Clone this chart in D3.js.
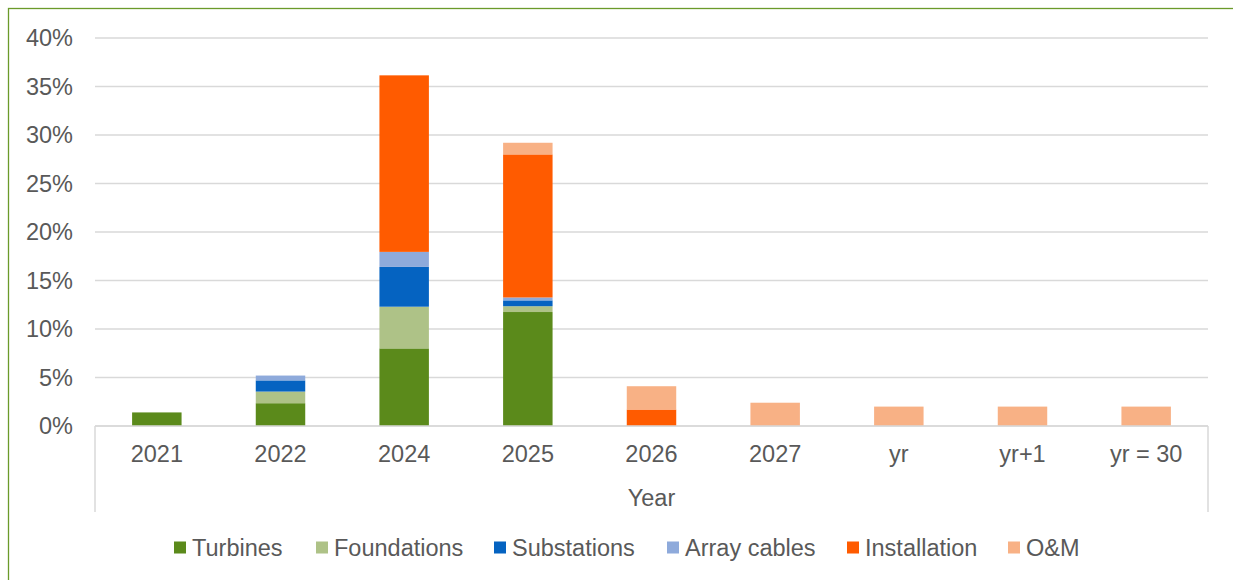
<!DOCTYPE html>
<html>
<head>
<meta charset="utf-8">
<script src="https://cdn.jsdelivr.net/npm/d3@7"></script>
<style>
  body { margin: 0; background: #fff; }
  svg text { font-family: "Liberation Sans", Arial, sans-serif; fill: #595959; }
</style>
</head>
<body>
<svg id="chart" width="1233" height="580"></svg>
<script>
const years = ["2021", "2022", "2024", "2025", "2026", "2027", "yr", "yr+1", "yr = 30"];
const seriesNames = ["Turbines", "Foundations", "Substations", "Array cables", "Installation", "O&M"];
const turbines    = [1.4, 2.35, 8.0, 11.75, 0, 0, 0, 0, 0];
const foundations = [0, 1.2, 4.3, 0.6, 0, 0, 0, 0, 0];
const substations = [0, 1.15, 4.1, 0.6, 0, 0, 0, 0, 0];
const arrayCables = [0, 0.5, 1.55, 0.3, 0, 0, 0, 0, 0];
const installation = [0, 0, 18.2, 14.75, 1.7, 0, 0, 0, 0];
const om          = [0, 0, 0, 1.2, 2.4, 2.4, 2.0, 2.0, 2.0];
const yTicks = [0, 5, 10, 15, 20, 25, 30, 35, 40];
const colors = ["#5B8A1B", "#AEC287", "#0563C1", "#8EAADB", "#FF5B00", "#F8B185"];

const rows = years.map((y, i) => ({
  year: y,
  "Turbines": turbines[i],
  "Foundations": foundations[i],
  "Substations": substations[i],
  "Array cables": arrayCables[i],
  "Installation": installation[i],
  "O&M": om[i]
}));

const svg = d3.select("#chart");
const plotLeft = 95, plotRight = 1208, plotTop = 38, plotBottom = 426;
const fontSize = 23.5;

// outer frame
svg.append("rect")
  .attr("x", 8.5).attr("y", 8.5)
  .attr("width", 1240).attr("height", 600)
  .attr("fill", "none").attr("stroke", "#6B9A2A").attr("stroke-width", 1.3);

const x = d3.scaleBand().domain(years).range([plotLeft, plotRight]).paddingInner(0.6).paddingOuter(0.3);
const y = d3.scaleLinear().domain([0, 40]).range([plotBottom, plotTop]);

// gridlines
svg.append("g")
  .selectAll("line")
  .data(yTicks)
  .enter()
  .append("line")
  .attr("x1", plotLeft).attr("x2", plotRight)
  .attr("y1", (d) => y(d)).attr("y2", (d) => y(d))
  .attr("stroke", "#D9D9D9").attr("stroke-width", 1.5);

// y tick labels
svg.append("g")
  .selectAll("text")
  .data(yTicks)
  .enter()
  .append("text")
  .attr("x", 73)
  .attr("y", (d) => y(d))
  .attr("dy", "0.35em")
  .attr("text-anchor", "end")
  .attr("font-size", fontSize)
  .text((d) => d + "%");

// stacked bars
const stack = d3.stack().keys(seriesNames);
const layers = stack(rows);

svg.append("g")
  .selectAll("g")
  .data(layers)
  .enter()
  .append("g")
  .attr("fill", (d, i) => colors[i])
  .selectAll("rect")
  .data((d) => d)
  .enter()
  .append("rect")
  .attr("x", (d) => x(d.data.year))
  .attr("width", x.bandwidth())
  .attr("y", (d) => y(d[1]))
  .attr("height", (d) => y(d[0]) - y(d[1]));

// category axis box
const axisG = svg.append("g").attr("stroke", "#D9D9D9").attr("stroke-width", 1.5);
axisG.append("line").attr("x1", plotLeft).attr("x2", plotRight).attr("y1", plotBottom).attr("y2", plotBottom);
axisG.append("line").attr("x1", plotLeft).attr("x2", plotLeft).attr("y1", plotBottom).attr("y2", 512);
axisG.append("line").attr("x1", plotRight).attr("x2", plotRight).attr("y1", plotBottom).attr("y2", 512);

svg.append("g")
  .selectAll("text")
  .data(years)
  .enter()
  .append("text")
  .attr("x", (d) => x(d) + x.bandwidth() / 2)
  .attr("y", 462)
  .attr("text-anchor", "middle")
  .attr("font-size", fontSize)
  .text((d) => d);

svg.append("text")
  .attr("x", (plotLeft + plotRight) / 2)
  .attr("y", 506)
  .attr("text-anchor", "middle")
  .attr("font-size", fontSize)
  .text("Year");

// legend
const legendX = [174, 316, 494, 667, 847, 1008];
const legend = svg.append("g")
  .selectAll("g")
  .data(seriesNames)
  .enter()
  .append("g")
  .attr("transform", (d, i) => `translate(${legendX[i]},547.5)`);

legend.append("rect")
  .attr("x", 0).attr("y", -6)
  .attr("width", 12).attr("height", 12)
  .attr("fill", (d, i) => colors[i]);

legend.append("text")
  .attr("x", 18)
  .attr("dy", "0.35em")
  .attr("font-size", fontSize)
  .text((d) => d);
</script>
</body>
</html>
